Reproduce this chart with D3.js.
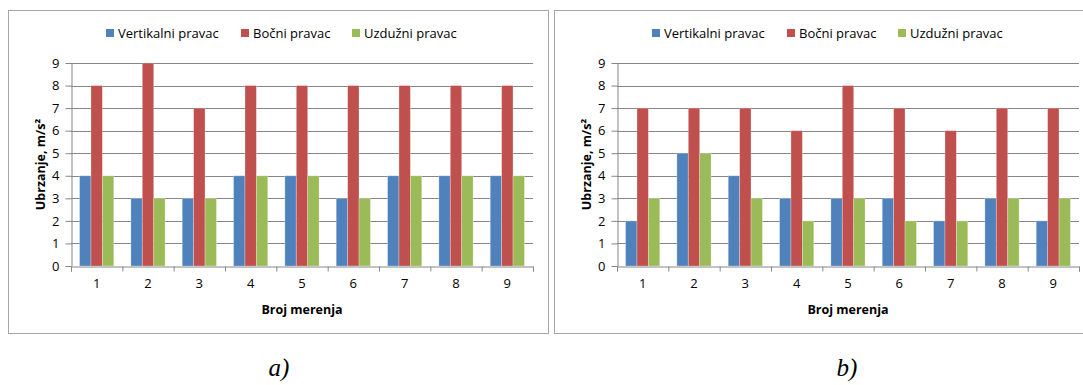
<!DOCTYPE html>
<html>
<head>
<meta charset="utf-8">
<script src="https://cdn.jsdelivr.net/npm/d3@7"></script>
<style>
  body { margin: 0; background: #fff; }
  svg { display: block; }
  .tick text { font-family: "Open Sans", sans-serif; font-size: 13px; fill: #000; }
  .domain { stroke: #868686; }
  .tick line { stroke: #868686; }
</style>
</head>
<body>
<svg id="chart" width="1083" height="385"></svg>
<script>
const categories = ['1', '2', '3', '4', '5', '6', '7', '8', '9'];
const seriesNames = ['Vertikalni pravac', 'Bočni pravac', 'Uzdužni pravac'];
const colors = ['#4F81BD', '#C0504D', '#9BBB59'];
const yTicks = [0, 1, 2, 3, 4, 5, 6, 7, 8, 9];

// panel a
const aVertikalni = [4, 3, 3, 4, 4, 3, 4, 4, 4];
const aBocni = [8, 9, 7, 8, 8, 8, 8, 8, 8];
const aUzduzni = [4, 3, 3, 4, 4, 3, 4, 4, 4];

// panel b
const bVertikalni = [2, 5, 4, 3, 3, 3, 2, 3, 2];
const bBocni = [7, 7, 7, 6, 8, 7, 6, 7, 7];
const bUzduzni = [3, 5, 3, 2, 3, 2, 2, 3, 3];

const svg = d3.select('#chart');

function drawPanel(ox, boxW, series, caption, captionX) {
    const g = svg.append('g').attr('transform', `translate(${ox},0)`);

    g.append('rect')
        .attr('x', 0.5).attr('y', 10.5)
        .attr('width', boxW).attr('height', 323)
        .attr('fill', '#fff').attr('stroke', '#a6a6a6').attr('stroke-width', 1);

    const plotLeft = 63, plotW = 462, plotTop = 63, plotH = 203;

    const x0 = d3.scaleBand().domain(categories).range([0, plotW])
        .paddingInner(1 / 3).paddingOuter(1 / 6);
    const x1 = d3.scaleBand().domain(d3.range(series.length)).range([0, x0.bandwidth()]);
    const xb = d3.scaleLinear().domain([0, categories.length]).range([0, plotW]);
    const y = d3.scaleLinear().domain([0, 9]).range([plotH, 0]);

    const p = g.append('g').attr('transform', `translate(${plotLeft},${plotTop})`);

    // gridlines
    p.append('g').selectAll('line').data(yTicks.filter(d => d > 0)).join('line')
        .attr('x1', 0).attr('x2', plotW)
        .attr('y1', d => Math.round(y(d)) + 0.5).attr('y2', d => Math.round(y(d)) + 0.5)
        .attr('stroke', '#868686');

    // bars
    series.forEach((vals, si) => {
        p.append('g').selectAll('rect').data(vals).join('rect')
            .attr('x', (d, i) => x0(categories[i]) + x1(si))
            .attr('y', d => y(d))
            .attr('width', x1.bandwidth())
            .attr('height', d => plotH - y(d))
            .attr('fill', colors[si])
            .attr('stroke', 'rgba(255,255,255,0.35)')
            .attr('stroke-width', 0.8);
    });

    // y axis
    p.append('g')
        .attr('transform', 'translate(0.5,0)')
        .call(d3.axisLeft(y).tickValues(yTicks).tickSize(6).tickPadding(6).tickSizeOuter(0));

    // x axis: boundary ticks
    p.append('g')
        .attr('transform', `translate(0,${plotH + 0.5})`)
        .call(d3.axisBottom(xb).ticks(categories.length).tickSize(5).tickFormat('').tickSizeOuter(5));

    // x axis labels
    p.append('g')
        .attr('transform', `translate(0,${plotH})`)
        .call(d3.axisBottom(x0).tickSize(0).tickPadding(13))
        .call(a => a.select('.domain').remove());

    // axis titles
    p.append('text')
        .attr('x', plotW / 2).attr('y', plotH + 48)
        .attr('text-anchor', 'middle')
        .attr('font-family', '"Open Sans", sans-serif').attr('font-weight', 'bold').attr('font-size', 12.5)
        .text('Broj merenja');

    p.append('text')
        .attr('transform', `translate(-26,${plotH / 2}) rotate(-90)`)
        .attr('text-anchor', 'middle')
        .attr('font-family', '"Open Sans", sans-serif').attr('font-weight', 'bold').attr('font-size', 12.5)
        .text('Ubrzanje, m/s²');

    // legend
    const legX = [98, 233, 344];
    const leg = g.append('g').attr('transform', 'translate(0,33)');
    seriesNames.forEach((name, i) => {
        const li = leg.append('g').attr('transform', `translate(${legX[i]},0)`);
        li.append('rect').attr('x', 0).attr('y', -4).attr('width', 8).attr('height', 8).attr('fill', colors[i]);
        li.append('text').attr('x', 12).attr('y', 4.5)
            .attr('font-family', '"Open Sans", sans-serif').attr('font-size', 13)
            .text(name);
    });

    // caption
    svg.append('text')
        .attr('x', captionX).attr('y', 376)
        .attr('text-anchor', 'middle')
        .attr('font-family', '"Liberation Serif", serif').attr('font-style', 'italic').attr('font-size', 25)
        .text(caption);
}

drawPanel(8, 540, [aVertikalni, aBocni, aUzduzni], 'a)', 279);
drawPanel(554, 540, [bVertikalni, bBocni, bUzduzni], 'b)', 847);
</script>
</body>
</html>
